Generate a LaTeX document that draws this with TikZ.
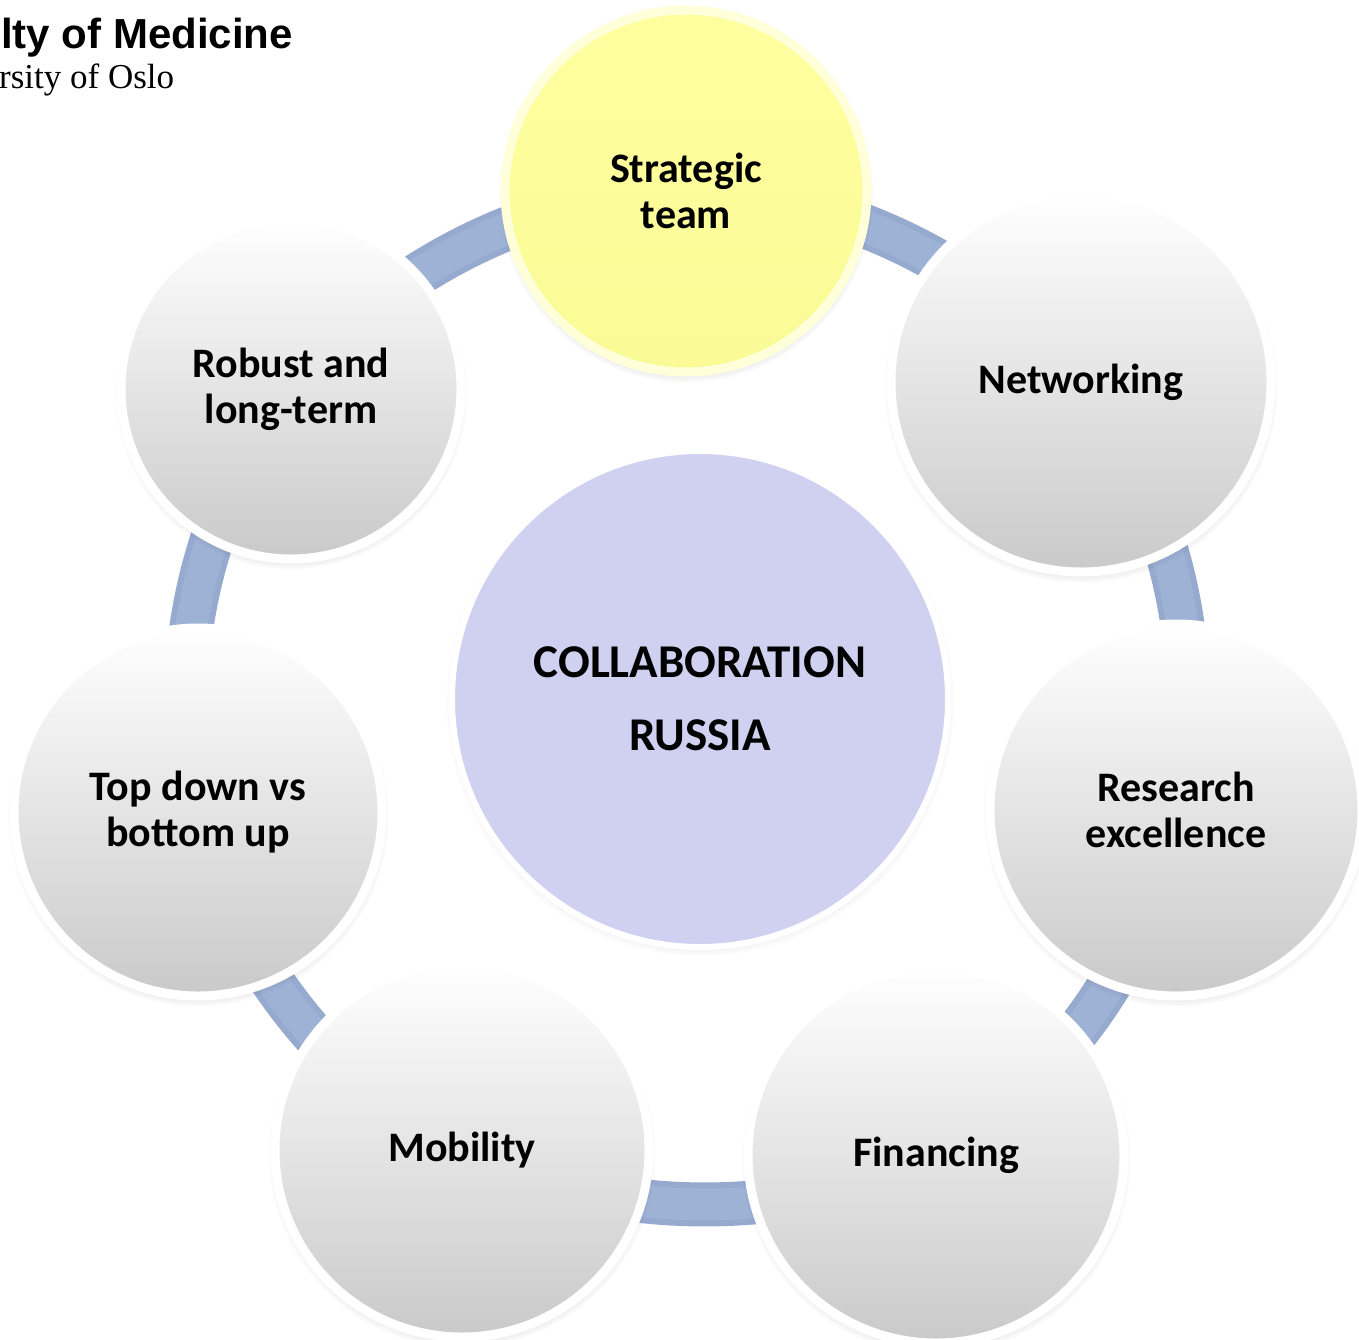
\documentclass[tikz,border=0pt]{standalone}
\usepackage{fontspec}
\setmainfont{Carlito}
\newfontfamily\hdsans{Liberation Sans}
\newfontfamily\hdserif{Liberation Serif}
\usetikzlibrary{shadows}
\pgfdeclarelayer{background}
\pgfsetlayers{background,main}
\definecolor{ringc}{RGB}{150,170,207}
\definecolor{ringl}{RGB}{158,178,214}
\definecolor{yelc}{RGB}{255,255,160}
\definecolor{yeld}{RGB}{250,250,150}
\definecolor{lavc}{RGB}{208,208,240}
\tikzset{
  bubble/.style={circle, inner sep=0pt, align=center,
    font=\bfseries\fontsize{42}{46}\selectfont,
    draw=white, line width=9pt,
    top color=white, middle color=black!4, bottom color=black!21,
    circular drop shadow={shadow xshift=0pt, shadow yshift=-4pt, shadow scale=1.035, fill=black, opacity=0.25}},
  yelbubble/.style={bubble, top color=yelc, middle color=yelc, bottom color=yeld, draw=yelc!40!white},
  hubbubble/.style={circle, inner sep=0pt, align=center,
    font=\bfseries\fontsize{47}{73}\selectfont,
    fill=lavc, draw=white, line width=6pt,
    circular drop shadow={shadow xshift=0pt, shadow yshift=-3pt, shadow scale=1.025, fill=black, opacity=0.2}},
  ringarc/.style={ringc, line width=44pt, looseness=0.86},
  ringhl/.style={ringl, line width=32pt, looseness=0.86},
  hdtext/.style={anchor=base west, inner sep=0pt}
}
\begin{document}
\begin{tikzpicture}[x=1pt,y=-1pt]
\useasboundingbox (0,0) rectangle (1359,1339);

\node[hdtext, font=\hdsans\bfseries\fontsize{42}{42}\selectfont] (hdA) at (1,48) {lty of Medicine};
\node[hdtext, font=\hdserif\fontsize{35}{35}\selectfont] (hdB) at (-1,88) {rsity of Oslo};

\node[hubbubble, minimum size=496pt] (hub) at (700,699) {COLLABORATION\\RUSSIA};

\node[yelbubble, minimum size=362pt] (strat) at (686,191) {Strategic\\team};
\node[bubble, minimum size=380pt] (net) at (1081,382) {Networking};
\node[bubble, minimum size=372pt] (res) at (1176,810) {Research\\excellence};
\node[bubble, minimum size=376pt] (fin) at (936,1155) {Financing};
\node[bubble, minimum size=374pt] (mob) at (462,1150) {Mobility};
\node[bubble, minimum size=368pt] (top) at (198,812) {Top down vs\\bottom up};
\node[bubble, minimum size=340pt] (rob) at (291,389) {Robust and\\long-term};

\begin{pgfonlayer}{background}
\fill[white] (0,0) rectangle (1359,1339);
\foreach \a/\b in {strat/net, net/res, res/fin, fin/mob, mob/top, top/rob, rob/strat}{
  \draw[ringarc] (\a.center) to[bend left=25.7] (\b.center);
  \draw[ringhl] (\a.center) to[bend left=25.7] (\b.center);
}
\end{pgfonlayer}
\end{tikzpicture}
\end{document}
